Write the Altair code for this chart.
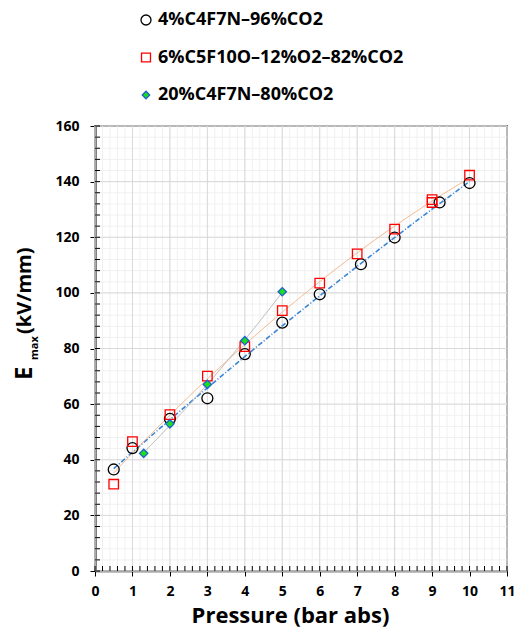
import altair as alt
import pandas as pd

# ---- data ----
series_names = ["4%C4F7N–96%CO2", "6%C5F10O–12%O2–82%CO2", "20%C4F7N–80%CO2"]

p_a = [0.5, 1, 2, 3, 4, 5, 6, 7.1, 8, 9.2, 10]
e_a = [36.5, 44.2, 54.7, 62.1, 78.0, 89.3, 99.5, 110.3, 119.9, 132.5, 139.5]

p_b = [0.5, 1, 2, 3, 4, 5, 6, 7, 8, 9, 9, 10]
e_b = [31.2, 46.5, 56.2, 70.1, 80.7, 93.6, 103.5, 114.0, 122.9, 133.5, 132.5, 142.3]

p_c = [1.3, 2, 3, 4, 5]
e_c = [42.3, 52.9, 67.1, 82.8, 100.4]

x_major = list(range(0, 12))                        # 0 .. 11
y_major = list(range(0, 161, 20))                   # 0 .. 160
x_minor = [round(i * 0.2, 1) for i in range(56)]    # 0 .. 11 step 0.2
y_minor = [i * 4 for i in range(41)]                # 0 .. 160 step 4

shapes = ["circle", "square", "diamond"]
strokes = ["#000000", "#ff0000", "#1f5fd0"]
fills = ["transparent", "transparent", "#19e019"]
sizes = [120, 90, 70]
leg_sizes = [100, 80, 55]
line_colors = ["#3a86d6", "#f4b183", "#b4b4b4"]
line_dash = [[5, 2, 1, 2], [1, 0], [1, 0]]
line_width = [1.6, 1.0, 1.0]

rows = []
for name, ps, es in zip(series_names, [p_a, p_b, p_c], [e_a, e_b, e_c]):
    for p, e in zip(ps, es):
        rows.append({"series": name, "P": p, "E": e})
df = pd.DataFrame(rows)

W, H = 412, 445
FONT = "Open Sans"
XT = "Pressure (bar abs)"

xscale = alt.Scale(domain=[0, 11], nice=False)
yscale = alt.Scale(domain=[0, 160], nice=False)

x_axis = alt.Axis(
    values=x_major, grid=False,
    tickColor="black", tickSize=5, tickWidth=1,
    labelOverlap=False, labelFlush=False,
    labelFont=FONT, labelFontSize=14, labelFontWeight="bold", labelColor="black",
    labelPadding=8,
    domainColor="black", domainWidth=1.5,
    titleFont=FONT, titleFontSize=22, titleFontWeight="bold", titleColor="black",
    titleX=195, titleY=51, titleBaseline="alphabetic", titleAlign="center",
)
y_axis = alt.Axis(
    values=y_major, grid=False,
    tickColor="black", tickSize=5, tickWidth=1,
    labelOverlap=False, labelFlush=False,
    labelFont=FONT, labelFontSize=14, labelFontWeight="bold", labelColor="black",
    labelPadding=11,
    domainColor="black", domainWidth=2,
)

X = lambda f: alt.X(f, scale=xscale, axis=x_axis, title=XT)
Y = lambda f: alt.Y(f, scale=yscale, axis=y_axis, title=None)

# grid lines
gx_minor = alt.Chart(pd.DataFrame({"v": x_minor})).mark_rule(color="#f0f0f0", strokeWidth=1).encode(
    x=X("v:Q"), y=alt.value(0), y2=alt.value(H))
gy_minor = alt.Chart(pd.DataFrame({"v": y_minor})).mark_rule(color="#f0f0f0", strokeWidth=1).encode(
    y=Y("v:Q"), x=alt.value(0), x2=alt.value(W))
gx_major = alt.Chart(pd.DataFrame({"v": x_major})).mark_rule(color="#d9d9d9", strokeWidth=1).encode(
    x=X("v:Q"), y=alt.value(0), y2=alt.value(H))
gy_major = alt.Chart(pd.DataFrame({"v": y_major})).mark_rule(color="#d9d9d9", strokeWidth=1).encode(
    y=Y("v:Q"), x=alt.value(0), x2=alt.value(W))

# inward minor ticks
tx_minor = alt.Chart(pd.DataFrame({"v": x_minor})).mark_rule(color="black", strokeWidth=1).encode(
    x=X("v:Q"), y=alt.value(H), y2=alt.value(H - 5))
ty_minor = alt.Chart(pd.DataFrame({"v": y_minor})).mark_rule(color="black", strokeWidth=1).encode(
    y=Y("v:Q"), x=alt.value(0), x2=alt.value(5))

base = alt.Chart(df)

lines = []
marks = []
for i, name in enumerate(series_names):
    sub = base.transform_filter(alt.datum.series == name)
    lines.append(
        sub.transform_regression("P", "E", method="poly", order=2)
        .mark_line(color=line_colors[i], strokeDash=line_dash[i], strokeWidth=line_width[i])
        .encode(x=X("P:Q"), y=Y("E:Q"))
    )
    marks.append(
        sub.mark_point(shape=shapes[i], stroke=strokes[i], fill=fills[i], filled=True,
                       opacity=1, strokeWidth=1.3, size=sizes[i])
        .encode(x=X("P:Q"), y=Y("E:Q"))
    )

# legend (manual, above the plot)
one = alt.Data(values=[{"a": 1}])
legend_layers = []
leg_y = [-106, -68.5, -31]
for i, name in enumerate(series_names):
    legend_layers.append(
        alt.Chart(one).mark_point(shape=shapes[i], stroke=strokes[i], fill=fills[i], filled=True,
                                  opacity=1, strokeWidth=1.3, size=leg_sizes[i])
        .encode(x=alt.value(51), y=alt.value(leg_y[i]))
    )
    legend_layers.append(
        alt.Chart(one).mark_text(text=name, align="left", baseline="middle",
                                 font=FONT, fontSize=18, fontWeight="bold", color="black")
        .encode(x=alt.value(63), y=alt.value(leg_y[i]))
    )

# y-axis title with subscript
t_e = alt.Chart(one).mark_text(text="E", angle=270, align="left", baseline="middle",
                               font=FONT, fontSize=24, fontWeight="bold", color="black").encode(
    x=alt.value(-70), y=alt.value(254))
t_max = alt.Chart(one).mark_text(text="max", angle=270, align="left", baseline="middle",
                                 font=FONT, fontSize=11, fontWeight="bold", color="black").encode(
    x=alt.value(-60), y=alt.value(234))
t_unit = alt.Chart(one).mark_text(text="(kV/mm)", angle=270, align="left", baseline="middle",
                                  font=FONT, fontSize=20, fontWeight="bold", color="black").encode(
    x=alt.value(-70), y=alt.value(208))

chart = alt.layer(
    gx_minor, gy_minor, gx_major, gy_major,
    *lines, *marks, tx_minor, ty_minor,
    *legend_layers, t_e, t_max, t_unit
).properties(
    width=W, height=H,
    autosize=alt.AutoSizeParams(type="none"),
    padding={"left": 95, "top": 126, "right": 9, "bottom": 59},
    background="white",
).configure_view(stroke="black", strokeWidth=1.5)

chart.save("out.html", embed_options={"renderer": "svg", "actions": False})
